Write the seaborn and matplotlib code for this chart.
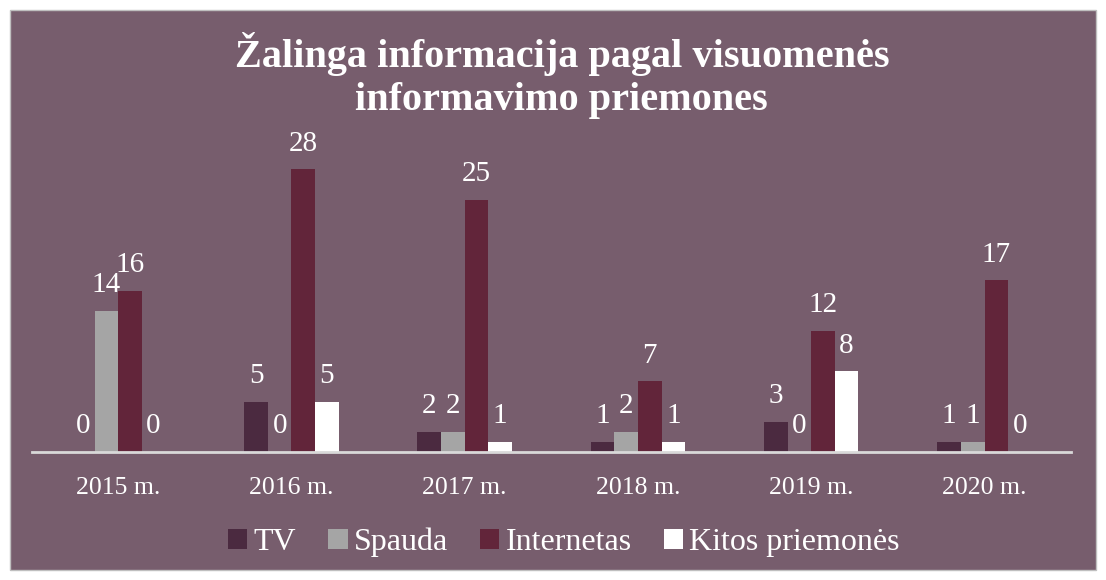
import numpy as np
import pandas as pd
import seaborn as sns
import matplotlib.pyplot as plt
from matplotlib.patches import Rectangle

sns.set_theme(style="white")
plt.rcParams['font.family'] = ['Liberation Serif', 'DejaVu Serif']

# duomenys
metai = ["2015 m.", "2016 m.", "2017 m.", "2018 m.", "2019 m.", "2020 m."]
priemones = ["TV", "Spauda", "Internetas", "Kitos priemonės"]
tv = [0, 5, 2, 1, 3, 1]
spauda = [14, 0, 2, 2, 0, 1]
internetas = [16, 28, 25, 7, 12, 17]
kitos = [0, 5, 1, 1, 8, 0]
spalvos = ["#4B2A40", "#A5A5A5", "#62253A", "#FFFFFF"]

fonas = "#775D6D"

df = pd.DataFrame({
    "metai": metai * 4,
    "priemone": np.repeat(priemones, len(metai)),
    "kiekis": tv + spauda + internetas + kitos,
})

fig = plt.figure(figsize=(11.06, 5.80), dpi=100, facecolor="white")
fig.patches.append(Rectangle((10/1106, 10/580), 1086/1106, 560/580,
                             transform=fig.transFigure, facecolor=fonas,
                             edgecolor="#BFBFBF", linewidth=1, zorder=-10))
ax = fig.add_axes([0.0285, 0.2207, 0.940, 0.522])
ax.patch.set_alpha(0)

sns.barplot(data=df, x="metai", y="kiekis", hue="priemone", hue_order=priemones,
            palette=spalvos, width=0.545, saturation=1, ax=ax, legend=False,
            linewidth=0)

for c in ax.containers:
    ax.bar_label(c, padding=9, color="white", fontsize=21)

ax.set_ylim(0, 30)
ax.set_xlim(-0.5, 5.5)
ax.set_yticks([])
ax.set_xlabel("")
ax.set_ylabel("")
for s in ["top", "left", "right"]:
    ax.spines[s].set_visible(False)
ax.spines["bottom"].set_color("#D9D9D9")
ax.spines["bottom"].set_linewidth(2)
ax.tick_params(axis="x", length=0, pad=18, labelsize=18.5, colors="white")

fig.text(0.508, 0.87, "Žalinga informacija pagal visuomenės\ninformavimo priemones",
         ha="center", va="center", color="white", fontsize=29, fontweight="bold",
         linespacing=1.2)

handles = [Rectangle((0, 0), 1, 1, facecolor=s, linewidth=0) for s in spalvos]
fig.legend(handles, priemones, loc="center", bbox_to_anchor=(0.51, 0.065), ncol=4,
           frameon=False, fontsize=23, labelcolor="white", handlelength=0.6,
           handleheight=0.6, handletextpad=0.2, columnspacing=1.0)

plt.savefig("out.png", dpi=100, facecolor=fig.get_facecolor())
